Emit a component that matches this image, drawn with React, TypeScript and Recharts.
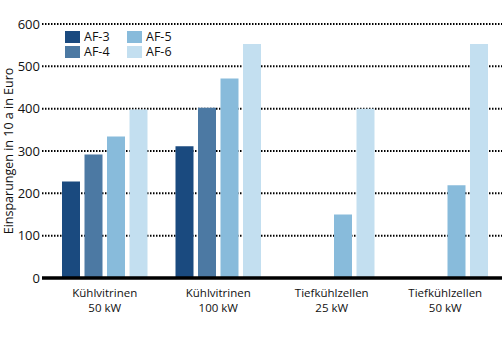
import React from 'react';
import { BarChart, Bar, XAxis, YAxis, CartesianGrid, Label } from 'recharts';

const categories = ['Kühlvitrinen|50 kW', 'Kühlvitrinen|100 kW', 'Tiefkühlzellen|25 kW', 'Tiefkühlzellen|50 kW'];
const af3 = [228, 311, null, null];
const af4 = [292, 402, null, null];
const af5 = [334, 471, 150, 219];
const af6 = [398, 553, 400, 553];
const yTicks = [0, 100, 200, 300, 400, 500, 600];

const seriesNames = ['AF-3', 'AF-4', 'AF-5', 'AF-6'];
const colors = ['#1a4a7f', '#4c79a3', '#88bbdb', '#c3dff0'];

const data = categories.map((c, i) => ({
  name: c,
  'AF-3': af3[i],
  'AF-4': af4[i],
  'AF-5': af5[i],
  'AF-6': af6[i],
}));

const font = '"Open Sans", sans-serif';

const CategoryTick = (props: any) => {
  const { x, y, payload } = props;
  const lines = String(payload.value).split('|');
  return (
    <g transform={`translate(${x},${y})`}>
      {lines.map((l, i) => (
        <text
          key={i}
          x={0}
          y={17 + i * 15}
          textAnchor="middle"
          fontSize={11.5}
          fontFamily={font}
          fill="#111"
        >
          {l}
        </text>
      ))}
    </g>
  );
};

const YLabel = (props: any) => {
  const vb = props.viewBox || {};
  const cy = vb.y + vb.height / 2;
  return (
    <text
      x={13}
      y={cy}
      transform={`rotate(-90, 13, ${cy})`}
      textAnchor="middle"
      fontSize={12.5}
      fontFamily={font}
      fill="#111"
    >
      Einsparungen in 10 a in Euro
    </text>
  );
};

const LegendBox = () => (
  <div style={{ position: 'absolute', left: 65, top: 30, width: 140, height: 30, fontFamily: font }}>
    {seriesNames.map((n, i) => (
      <div
        key={n}
        style={{
          position: 'absolute',
          left: (i >> 1) * 62,
          top: (i % 2) * 15,
          display: 'flex',
          alignItems: 'center',
          height: 13,
        }}
      >
        <span style={{ width: 15, height: 12, background: colors[i], display: 'inline-block' }} />
        <span style={{ marginLeft: 4, fontSize: 12.5, color: '#111', lineHeight: '13px' }}>{n}</span>
      </div>
    ))}
  </div>
);

export default function App() {
  return (
    <div style={{ position: 'absolute', left: 0, top: 0, width: 502, height: 351, background: '#fff' }}>
      <BarChart
        width={502}
        height={351}
        data={data}
        margin={{ top: 24, right: 0, bottom: 0, left: 0 }}
        barSize={18}
        barGap={4.5}
      >
        <CartesianGrid vertical={false} stroke="#000" strokeDasharray="1.5 1.5" strokeWidth={2} />
        <XAxis
          dataKey="name"
          height={73}
          interval={0}
          padding={{ left: 6, right: 0 }}
          axisLine={{ stroke: '#000', strokeWidth: 3.5 }}
          tickLine={false}
          tickSize={0}
          tick={<CategoryTick />}
        />
        <YAxis
          width={42}
          domain={[0, 600]}
          ticks={yTicks}
          axisLine={false}
          tickLine={false}
          tickSize={0}
          tickMargin={2}
          tick={{ fontSize: 13, fontFamily: font, fill: '#111' }}
        >
          <Label content={<YLabel />} />
        </YAxis>
        {seriesNames.map((n, i) => (
          <Bar key={n} dataKey={n} fill={colors[i]} isAnimationActive={false} />
        ))}
      </BarChart>
      <LegendBox />
    </div>
  );
}
